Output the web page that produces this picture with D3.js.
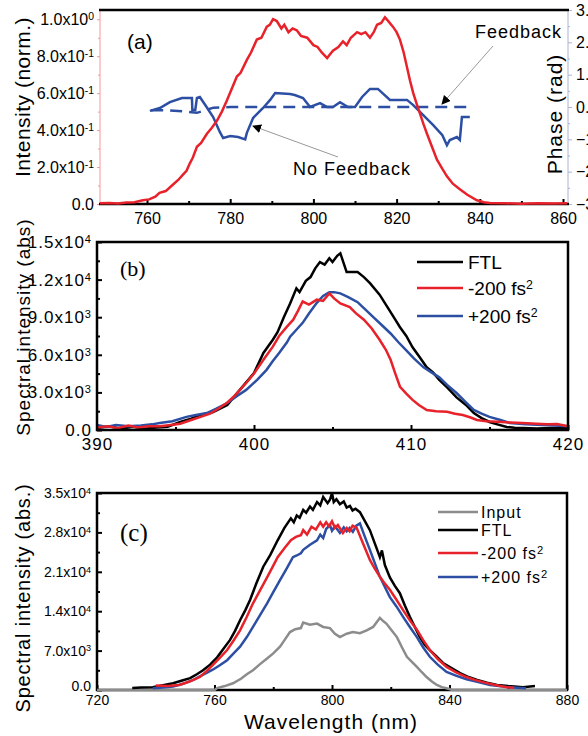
<!DOCTYPE html>
<html>
<head>
<meta charset="utf-8">
<script src="https://cdn.jsdelivr.net/npm/d3@7"></script>
<style>
body { margin: 0; background: #fff; }
text { font-family: 'Liberation Sans', Arial, sans-serif; }
</style>
</head>
<body>
<div id="chart"></div>
<script>
// ---- panel (a): normalised intensity and spectral phase
var aIntensity = [[748.7,0.004],[751,0.006],[753,0.003],[755,0.008],[757,0.01],[759,0.02],[760.5,0.025],[762,0.04],[763,0.06],[764.5,0.07],[766,0.1],[767.5,0.13],[768.7,0.16],[769.5,0.18],[770.3,0.22],[771,0.25],[772,0.31],[773,0.33],[774.4,0.38],[775.5,0.41],[776.8,0.45],[778,0.5],[779.2,0.56],[780.3,0.62],[781.6,0.69],[782.5,0.71],[784,0.78],[785,0.82],[786.4,0.89],[787.5,0.9],[788.8,0.96],[789.5,0.97],[790.3,1.0],[791.2,0.99],[792.3,0.95],[793,0.97],[794,0.93],[795,0.95],[796,0.94],[797,0.91],[798.5,0.9],[800,0.86],[801,0.85],[802,0.82],[803.3,0.79],[804,0.81],[804.7,0.83],[806,0.85],[807.1,0.88],[808,0.86],[809,0.9],[810.5,0.93],[811.5,0.92],[812.5,0.93],[813.6,0.9],[814.5,0.93],[815.3,0.97],[816.3,0.98],[817.2,1.01],[818,0.99],[819.1,0.96],[820,0.93],[820.8,0.89],[821.7,0.82],[822.5,0.74],[823.2,0.67],[824,0.6],[825,0.53],[825.6,0.49],[826.5,0.43],[827.3,0.38],[828.5,0.31],[829.7,0.24],[831,0.19],[832.1,0.15],[833.5,0.11],[835.2,0.08],[837,0.05],[839.3,0.02],[841,0.01],[842.4,0.005],[846,0.004],[850,0.002],[854,0.004],[858,0.003],[861,0.004]];
var aPhaseNoFeedback = [[760.7,-0.12],[763.1,-0.03],[765.5,0.15],[768.4,0.28],[770.8,0.28],[770.9,-0.09],[771.6,-0.09],[772,0.28],[772.7,0.31],[774,0.06],[775.9,-0.31],[777.5,-0.77],[778.3,-0.96],[780,-0.9],[781.9,-0.93],[783.6,-1.0],[784,-0.8],[785.5,-0.34],[787.9,-0.03],[789.6,0.22],[790.8,0.43],[794.4,0.4],[795.5,0.37],[797.5,0.28],[799.2,0.0],[801.6,0.12],[803.3,0.0],[804.7,0.0],[806.4,0.15],[808.3,0.0],[810,0.0],[811.7,0.31],[813.6,0.56],[815.5,0.56],[818.4,0.22],[822.5,0.22],[824,0.06],[826.4,-0.25],[828.8,-0.56],[831,-0.87],[832.1,-1.18],[832.8,-1.02],[834.5,-0.93],[835.2,-1.02],[835.7,-0.31],[837.6,-0.31]];
var aPhaseFeedback = [[761,-0.1],[765,-0.1],[770,-0.15],[772,-0.18],[774,-0.1],[776,-0.02],[780,0.0],[790,0.0],[800,0.0],[810,0.0],[820,0.0],[830,0.0],[838.2,0.0]];
var aXTicks = [760, 780, 800, 820, 840, 860];
var aYTicks = [0, 0.2, 0.4, 0.6, 0.8, 1.0];
var aYMant = ['0.0', '2.0x10', '4.0x10', '6.0x10', '8.0x10', '1.0x10'];
var aYExp = ['', '-1', '-1', '-1', '-1', '0'];
var aPhaseTicks = [-3, -2, -1, 0, 1, 2, 3];

// ---- panel (b): second harmonic spectra
var bFTL = [[390,150],[390.8,300],[391.5,100],[392.3,250],[393,100],[393.8,200],[394.5,260],[395.3,640],[396,900],[396.6,1200],[397.4,1440],[398.3,2000],[399.1,3200],[400,4550],[400.6,6150],[401.2,7200],[401.5,7800],[401.9,9000],[402.3,10100],[402.7,11300],[402.9,11000],[403.3,11900],[403.6,12200],[403.9,12900],[404.2,13400],[404.5,13200],[404.8,13700],[405,13400],[405.3,13900],[405.5,14100],[405.9,12600],[406.6,12600],[407,12200],[407.4,11700],[408,10800],[408.5,9800],[408.9,9000],[409.3,8200],[409.7,7500],[410.1,6600],[410.5,5900],[411,5000],[411.4,4600],[411.8,4000],[412.3,3400],[412.9,2600],[413.5,2000],[414,1350],[414.5,950],[415,640],[415.5,450],[416.1,240],[416.6,180],[417.1,150],[418,120],[419,150],[420,130]];
var bNeg200 = [[390,200],[390.7,300],[391.3,150],[392,350],[392.6,200],[393.3,300],[394,300],[394.7,400],[395.3,500],[396,800],[396.6,1050],[397.2,1300],[397.8,1750],[398.3,2200],[398.7,2650],[399.1,3200],[399.5,3750],[400,4500],[400.6,5600],[401.2,6650],[401.6,7500],[402.1,8250],[402.5,8800],[402.8,9500],[403.1,10250],[403.5,10000],[404,10400],[404.4,10300],[404.8,10900],[405.1,10500],[405.5,10100],[406.1,9800],[406.5,9300],[407,8800],[407.5,8100],[408,7200],[408.4,6400],[408.7,5600],[409,4500],[409.3,3450],[409.7,2900],[410.1,2400],[410.5,2000],[411,1600],[411.6,1500],[412.3,1450],[412.8,1300],[413.3,1200],[413.8,1000],[414.2,800],[414.8,700],[415.5,650],[416.3,600],[417.1,550],[418,500],[418.7,450],[419.3,480],[420,300]];
var bPos200 = [[390,400],[390.6,250],[391.2,400],[392,300],[392.8,350],[393.5,450],[394,550],[394.8,700],[395.7,1050],[396.3,1200],[397,1350],[397.6,1700],[398.3,2150],[398.9,2700],[399.5,3200],[400.2,4000],[400.8,4800],[401.2,5500],[401.6,6150],[402.1,7000],[402.3,7450],[402.7,8000],[403.1,8550],[403.5,9300],[404,10150],[404.4,10700],[404.8,11000],[405.1,11000],[405.5,10900],[406,10600],[406.6,10200],[407.1,9600],[407.6,9000],[408.2,8300],[408.7,7700],[409.2,7000],[409.7,6350],[410.2,5700],[410.8,5000],[411.3,4600],[411.8,4200],[412.3,3600],[412.9,2950],[413.5,2200],[414,1600],[414.5,1300],[415,1050],[415.7,800],[416.3,550],[417.3,450],[418.4,400],[419.2,350],[420,300]];
var bXTicks = [390, 400, 410, 420];
var bYTicks = [0, 3000, 6000, 9000, 12000, 15000];
var bYMant = ['0.0', '3.0x10', '6.0x10', '9.0x10', '1.2x10', '1.5x10'];
var bYExp = ['', '3', '3', '3', '4', '4'];

// ---- panel (c): fundamental spectra
var cInput = [[720,0],[760,0],[760.9,350],[763.5,700],[766.3,1200],[769,2000],[771,2800],[773.1,3500],[775.5,4600],[777.9,5600],[780,6500],[782.3,7700],[784,9000],[785.7,10300],[787.5,10800],[789.4,11000],[790.2,12000],[792.5,11600],[794.9,11800],[797,11200],[799.3,11000],[801,10000],[802.7,9400],[805,10000],[807.1,10300],[809.5,10100],[811.8,10600],[814,11200],[816.3,12800],[817.5,12200],[818.5,11800],[820,10800],[822.1,9400],[823.8,7600],[825.5,5900],[827.2,5000],[828.9,4100],[830.5,3200],[832.2,2300],[834,1500],[835.7,900],[837.4,500],[839,300],[841,0],[880,0]];
var cFTL = [[732,350],[735,450],[739,500],[742,800],[745.9,1200],[749,1700],[751.7,2100],[754,2800],[756.1,3500],[758.5,4500],[760.9,5800],[763,7300],[765.3,8900],[767,10500],[768.7,12400],[770.5,14200],[772.1,16000],[774.3,19000],[776.6,21900],[779,24000],[781.5,26600],[783.8,28800],[786,30500],[787,29800],[788,31000],[789,30600],[790.2,32000],[791.2,31500],[792.5,32600],[793.5,32000],[794.9,33400],[796,32800],[797,34300],[798.5,33200],[799.3,33800],[800,35000],[800.6,33400],[801.5,33900],[802.7,33000],[804,33500],[805,32400],[806.1,32700],[807,31900],[808,32200],[809.5,31600],[811.2,30000],[812.9,28400],[814.6,26000],[816.3,23600],[817,24800],[818,22200],[819.7,20000],[821.4,18500],[823.1,17200],[824.8,15000],[826.5,13000],[828.2,11200],[829.9,9400],[831.6,8000],[833.3,7100],[835.5,6000],[837.8,4800],[840.7,3900],[843.6,3000],[846.5,2300],[849.4,1800],[852.8,1300],[856.2,900],[860,700],[865,500],[869.1,700]];
var cNeg200 = [[740,800],[744,700],[748,900],[751.5,1500],[755,2300],[757.2,3300],[759.4,4400],[761.8,5700],[764.3,7100],[766.5,8800],[768.7,10600],[771,13000],[773.1,15400],[775.5,17700],[777.9,20000],[779.7,21800],[781.5,23600],[783.8,25200],[786,26600],[787.7,27200],[789.4,27500],[790.2,28400],[791.5,27600],[793,29000],[794.5,28500],[796,29800],[797,29000],[798,29800],[799,29100],[800,30000],[801,28800],[802,29300],[803.7,27900],[805,28800],[806,28200],[807,29200],[808.4,28800],[810.6,26000],[812.9,23100],[814.6,21500],[816.3,20100],[818,18900],[819.7,17800],[822,16000],[824.2,14200],[826.5,12400],[828.9,10700],[831,8900],[833.3,7100],[836,5500],[839,4100],[842.4,3100],[845.8,2300],[848.6,1800],[851.4,1400],[855.5,900],[859.6,500],[862,400]];
var cPos200 = [[739,300],[742.5,450],[745.9,600],[749.3,1100],[752.8,1800],[756,2700],[759.4,3600],[761.8,4400],[764.3,5300],[766.5,6500],[768.7,7700],[771,9400],[773.1,11200],[775.5,13300],[777.9,15400],[780,17400],[782.3,19500],[784.5,21500],[786.7,23600],[788,23900],[789.4,24300],[790.2,24900],[792.5,25800],[794.9,26600],[796,27600],[797,27000],[798,28600],[799.3,29300],[800,28300],[801,29100],[802.7,27900],[804,28900],[805,28200],[806,28800],[807.1,28100],[808.3,29200],[809.5,29600],[811.2,27200],[812.9,24900],[814.6,22500],[816.3,20100],[818,18300],[819.7,16500],[822,14800],[824.2,13000],[826.5,11200],[828.9,9400],[831,7600],[833.3,5900],[836,4500],[839,3200],[842.4,2500],[845.8,1900],[849.8,1400],[853.8,900],[858.3,600],[862.9,400],[866,300]];
var cXTicks = [720, 760, 800, 840, 880];
var cYTicks = [0, 7000, 14000, 21000, 28000, 35000];
var cYMant = ['0.0', '7.0x10', '1.4x10', '2.1x10', '2.8x10', '3.5x10'];
var cYExp = ['', '3', '4', '4', '4', '4'];

var RED = '#e8222b', BLUE = '#2d4fa3', GRAY = '#8c8c8c';

var svg = d3.select('#chart').append('svg')
    .attr('width', 588)
    .attr('height', 736);
svg.append('rect').attr('width', 588).attr('height', 736).attr('fill', '#fff');

var defs = svg.append('defs');
defs.append('marker')
    .attr('id', 'arrow')
    .attr('viewBox', '0 0 10 10')
    .attr('refX', 9).attr('refY', 5)
    .attr('markerWidth', 9).attr('markerHeight', 9)
    .attr('markerUnits', 'userSpaceOnUse')
    .attr('orient', 'auto')
    .append('path')
    .attr('d', 'M0,0 L10,5 L0,10 z')
    .attr('fill', '#000');

// writes mantissa + superscript exponent into the tick labels
function supLabels(g, mant, exp) {
    g.selectAll('.tick text').each(function(d, i) {
        var t = d3.select(this).text('');
        t.append('tspan').text(mant[i]);
        if (exp[i]) t.append('tspan').attr('dy', '-0.45em').attr('font-size', '0.65em').text(exp[i]);
    });
}

function styleAxis(g, color, width) {
    g.call(g => g.select('.domain').remove());
    g.selectAll('.tick line').attr('stroke', color).attr('stroke-width', width);
    g.selectAll('.tick text').attr('fill', '#000');
}

// ================= panel (a)
var ax = d3.scaleLinear().domain([748.7, 861.2]).range([100, 568]);
var ayI = d3.scaleLinear().domain([0, 1.05]).range([204, 10]);
var ayP = d3.scaleLinear().domain([-3, 3]).range([204, 10]);

// left axis (pink)
var gaL = svg.append('g').attr('transform', 'translate(100,0)')
    .call(d3.axisLeft(ayI).tickValues(aYTicks).tickSize(3).tickPadding(3))
    .attr('font-size', 16);
styleAxis(gaL, '#f19a9a', 1);
supLabels(gaL, aYMant, aYExp);
svg.append('g').attr('transform', 'translate(100,0)')
    .call(d3.axisLeft(ayI).tickValues([0.1, 0.3, 0.5, 0.7, 0.9]).tickSize(2).tickFormat(''))
    .call(g => styleAxis(g, '#f19a9a', 1));
svg.append('line').attr('x1', 100).attr('x2', 100).attr('y1', 10).attr('y2', 204)
    .attr('stroke', '#f19a9a').attr('stroke-width', 1);

// right axis (phase)
var gaR = svg.append('g').attr('transform', 'translate(568,0)')
    .call(d3.axisRight(ayP).tickValues(aPhaseTicks).tickSize(4).tickPadding(4))
    .attr('font-size', 16);
styleAxis(gaR, '#a9b4d6', 1);
svg.append('g').attr('transform', 'translate(568,0)')
    .call(d3.axisRight(ayP).tickValues([-2.5, -1.5, -0.5, 0.5, 1.5, 2.5]).tickSize(2).tickFormat(''))
    .call(g => styleAxis(g, '#a9b4d6', 1));
svg.append('line').attr('x1', 568).attr('x2', 568).attr('y1', 10).attr('y2', 204)
    .attr('stroke', '#a9b4d6').attr('stroke-width', 1);

// bottom axis
var gaB = svg.append('g').attr('transform', 'translate(0,204)')
    .call(d3.axisBottom(ax).tickValues(aXTicks).tickSize(-5).tickPadding(9))
    .attr('font-size', 16);
styleAxis(gaB, '#000', 2);
svg.append('g').attr('transform', 'translate(0,204)')
    .call(d3.axisBottom(ax).tickValues([770, 790, 810, 830, 850]).tickSize(-3).tickFormat(''))
    .call(g => styleAxis(g, '#000', 2));
svg.append('line').attr('x1', 99).attr('x2', 569).attr('y1', 204).attr('y2', 204)
    .attr('stroke', '#000').attr('stroke-width', 2.5);
svg.append('line').attr('x1', 99).attr('x2', 569).attr('y1', 10).attr('y2', 10)
    .attr('stroke', '#000').attr('stroke-width', 2.5);

var linePhase = d3.line().x(d => ax(d[0])).y(d => ayP(d[1]));
var lineInt = d3.line().x(d => ax(d[0])).y(d => ayI(d[1]));

svg.append('path').datum(aPhaseFeedback).attr('d', linePhase)
    .attr('fill', 'none').attr('stroke', BLUE).attr('stroke-width', 2.5)
    .attr('stroke-dasharray', '12,7');
svg.append('path').datum(aPhaseNoFeedback).attr('d', linePhase)
    .attr('fill', 'none').attr('stroke', BLUE).attr('stroke-width', 2.5);
svg.append('path').datum(aIntensity).attr('d', lineInt)
    .attr('fill', 'none').attr('stroke', RED).attr('stroke-width', 2.5);

// annotations
svg.append('line').attr('x1', 493).attr('y1', 46).attr('x2', 442).attr('y2', 104)
    .attr('stroke', '#999').attr('stroke-width', 1).attr('marker-end', 'url(#arrow)');
svg.append('line').attr('x1', 338).attr('y1', 157).attr('x2', 253).attr('y2', 126)
    .attr('stroke', '#999').attr('stroke-width', 1).attr('marker-end', 'url(#arrow)');
svg.append('text').attr('x', 475).attr('y', 38).attr('font-size', 18).attr('letter-spacing', 1).text('Feedback');
svg.append('text').attr('x', 293).attr('y', 175).attr('font-size', 18).attr('letter-spacing', 1).text('No Feedback');
svg.append('text').attr('x', 127).attr('y', 49).attr('font-size', 21).text('(a)');

svg.append('text').attr('transform', 'translate(30,97) rotate(-90)').attr('text-anchor', 'middle')
    .attr('font-size', 21).attr('letter-spacing', 0.5).text('Intensity (norm.)');
svg.append('text').attr('transform', 'translate(562,114) rotate(-90)').attr('text-anchor', 'middle')
    .attr('font-size', 21).attr('letter-spacing', 1).text('Phase (rad)');

// ================= panel (b)
var bx = d3.scaleLinear().domain([390, 420]).range([97, 568]);
var by = d3.scaleLinear().domain([0, 15000]).range([430, 242]);

var gbL = svg.append('g').attr('transform', 'translate(97,0)')
    .call(d3.axisLeft(by).tickValues(bYTicks).tickSize(-5).tickPadding(5))
    .attr('font-size', 17).attr('letter-spacing', 1);
styleAxis(gbL, '#000', 2);
supLabels(gbL, bYMant, bYExp);
svg.append('g').attr('transform', 'translate(97,0)')
    .call(d3.axisLeft(by).tickValues([1500, 4500, 7500, 10500, 13500]).tickSize(-3).tickFormat(''))
    .call(g => styleAxis(g, '#000', 2));
var gbB = svg.append('g').attr('transform', 'translate(0,430)')
    .call(d3.axisBottom(bx).tickValues(bXTicks).tickSize(-5).tickPadding(8))
    .attr('font-size', 17).attr('letter-spacing', 1);
styleAxis(gbB, '#000', 2);
svg.append('g').attr('transform', 'translate(0,430)')
    .call(d3.axisBottom(bx).tickValues([395, 405, 415]).tickSize(-3).tickFormat(''))
    .call(g => styleAxis(g, '#000', 2));

var lineB = d3.line().x(d => bx(d[0])).y(d => by(d[1]));
[[bFTL, '#000'], [bPos200, BLUE], [bNeg200, RED]].forEach(function(s) {
    svg.append('path').datum(s[0]).attr('d', lineB)
        .attr('fill', 'none').attr('stroke', s[1]).attr('stroke-width', 2.5);
});
svg.append('rect').attr('x', 97).attr('y', 242).attr('width', 471).attr('height', 188)
    .attr('fill', 'none').attr('stroke', '#000').attr('stroke-width', 2.5);

var bLegend = [['FTL', '', '#000'], ['-200 fs', '2', RED], ['+200 fs', '2', BLUE]];
bLegend.forEach(function(l, i) {
    var y = [262, 288, 316][i];
    svg.append('line').attr('x1', 417).attr('x2', 463).attr('y1', y).attr('y2', y)
        .attr('stroke', l[2]).attr('stroke-width', 2.5);
    var t = svg.append('text').attr('x', 468).attr('y', y + 7).attr('font-size', 19);
    t.append('tspan').text(l[0]);
    if (l[1]) t.append('tspan').attr('dy', '-0.45em').attr('font-size', '0.65em').text(l[1]);
});
svg.append('text').attr('x', 120).attr('y', 276).attr('font-size', 22)
    .style('font-family', "'Liberation Serif', 'Times New Roman', serif").text('(b)');
svg.append('text').attr('transform', 'translate(30,327) rotate(-90)').attr('text-anchor', 'middle')
    .attr('font-size', 19).attr('letter-spacing', 1).text('Spectral intensity (abs)');

// ================= panel (c)
var cx = d3.scaleLinear().domain([720, 880]).range([97, 567]);
var cy = d3.scaleLinear().domain([0, 35000]).range([690, 493]);

var gcL = svg.append('g').attr('transform', 'translate(97,0)')
    .call(d3.axisLeft(cy).tickValues(cYTicks).tickSize(-5).tickPadding(6))
    .attr('font-size', 14);
styleAxis(gcL, '#000', 2);
supLabels(gcL, cYMant, cYExp);
// the 0.0 label sits a little higher so it clears the 720 label
gcL.selectAll('.tick text').filter(d => d === 0).attr('dy', '0.05em');
svg.append('g').attr('transform', 'translate(97,0)')
    .call(d3.axisLeft(cy).tickValues([3500, 10500, 17500, 24500, 31500]).tickSize(-3).tickFormat(''))
    .call(g => styleAxis(g, '#000', 2));
var gcB = svg.append('g').attr('transform', 'translate(0,690)')
    .call(d3.axisBottom(cx).tickValues(cXTicks).tickSize(-5).tickPadding(5))
    .attr('font-size', 14);
styleAxis(gcB, '#000', 2);
svg.append('g').attr('transform', 'translate(0,690)')
    .call(d3.axisBottom(cx).tickValues([740, 780, 820, 860]).tickSize(-3).tickFormat(''))
    .call(g => styleAxis(g, '#000', 2));

var lineC = d3.line().x(d => cx(d[0])).y(d => cy(d[1]));
svg.append('rect').attr('x', 97).attr('y', 493).attr('width', 470).attr('height', 197)
    .attr('fill', 'none').attr('stroke', '#000').attr('stroke-width', 2.5);
[[cInput, GRAY], [cFTL, '#000'], [cPos200, BLUE], [cNeg200, RED]].forEach(function(s) {
    svg.append('path').datum(s[0]).attr('d', lineC)
        .attr('fill', 'none').attr('stroke', s[1]).attr('stroke-width', 2.5);
});

var cLegend = [['Input', '', GRAY], ['FTL', '', '#000'], ['-200 fs', '2', RED], ['+200 fs', '2', BLUE]];
cLegend.forEach(function(l, i) {
    var y = [512, 530, 553, 577][i];
    svg.append('line').attr('x1', 438).attr('x2', 478).attr('y1', y).attr('y2', y)
        .attr('stroke', l[2]).attr('stroke-width', 2.5);
    var t = svg.append('text').attr('x', 481).attr('y', y + 6).attr('font-size', 16).attr('letter-spacing', 1);
    t.append('tspan').text(l[0]);
    if (l[1]) t.append('tspan').attr('dy', '-0.45em').attr('font-size', '0.7em').text(l[1]);
});
svg.append('text').attr('x', 120).attr('y', 541).attr('font-size', 25)
    .style('font-family', "'Liberation Serif', 'Times New Roman', serif").text('(c)');
svg.append('text').attr('transform', 'translate(30,598) rotate(-90)').attr('text-anchor', 'middle')
    .attr('font-size', 20).attr('letter-spacing', 0.8).text('Spectral intensity (abs.)');
svg.append('text').attr('x', 331).attr('y', 729).attr('text-anchor', 'middle')
    .attr('font-size', 21).attr('letter-spacing', 1).text('Wavelength (nm)');
</script>
</body>
</html>
